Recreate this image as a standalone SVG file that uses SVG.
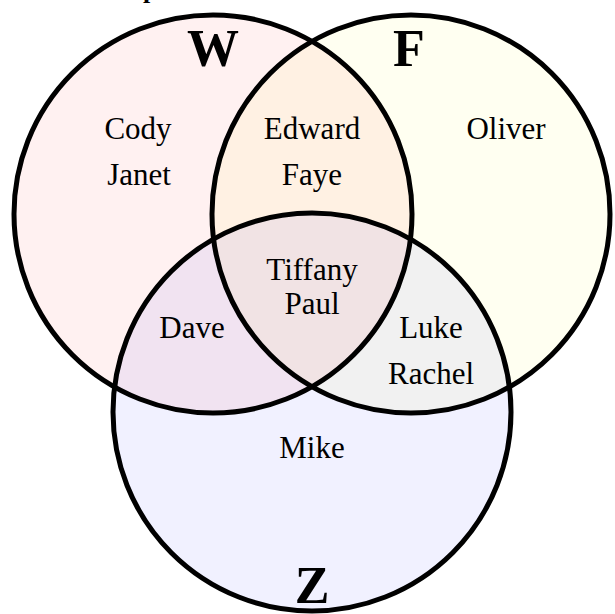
<svg xmlns="http://www.w3.org/2000/svg" width="615" height="614" viewBox="0 0 615 614">
<style>
.fillc{stroke:none}
.ring{fill:none;stroke:#000;stroke-width:5}
.lbl{font-family:"Liberation Serif","Times New Roman",serif;font-size:31px;fill:#000;text-anchor:middle}
.set{font-family:"Liberation Serif","Times New Roman",serif;font-size:52px;font-weight:bold;fill:#000;text-anchor:middle}
</style>
<rect width="615" height="614" fill="#fff"/>
<text x="143" y="-2" style="font-family:'Liberation Serif',serif;font-size:26px;font-weight:bold">p</text>
<g id="fills">
<circle class="fillc" cx="213" cy="214" r="199" fill="#ff0000" fill-opacity="0.055"/>
<circle class="fillc" cx="411" cy="214" r="199" fill="#ffff00" fill-opacity="0.055"/>
<circle class="fillc" cx="312" cy="412" r="199" fill="#0000ff" fill-opacity="0.055"/>
</g>
<g id="W">
<circle class="ring" cx="213" cy="214" r="199"/>
<text class="set" x="213" y="66">W</text>
<text class="lbl" x="138" y="139">Cody</text>
<text class="lbl" x="139" y="185">Janet</text>
</g>
<g id="F">
<circle class="ring" cx="411" cy="214" r="199"/>
<text class="set" x="409" y="66">F</text>
<text class="lbl" x="506" y="139">Oliver</text>
</g>
<g id="Z">
<circle class="ring" cx="312" cy="412" r="199"/>
<text class="set" x="312" y="603">Z</text>
<text class="lbl" x="312" y="458">Mike</text>
</g>
<g id="WF">
<text class="lbl" x="312" y="139">Edward</text>
<text class="lbl" x="312" y="185">Faye</text>
</g>
<g id="WZ">
<text class="lbl" x="192" y="338">Dave</text>
</g>
<g id="FZ">
<text class="lbl" x="431" y="338">Luke</text>
<text class="lbl" x="431" y="384">Rachel</text>
</g>
<g id="WFZ">
<text class="lbl" x="312" y="280">Tiffany</text>
<text class="lbl" x="312" y="314">Paul</text>
</g>
<g id="connectors"/>
</svg>
